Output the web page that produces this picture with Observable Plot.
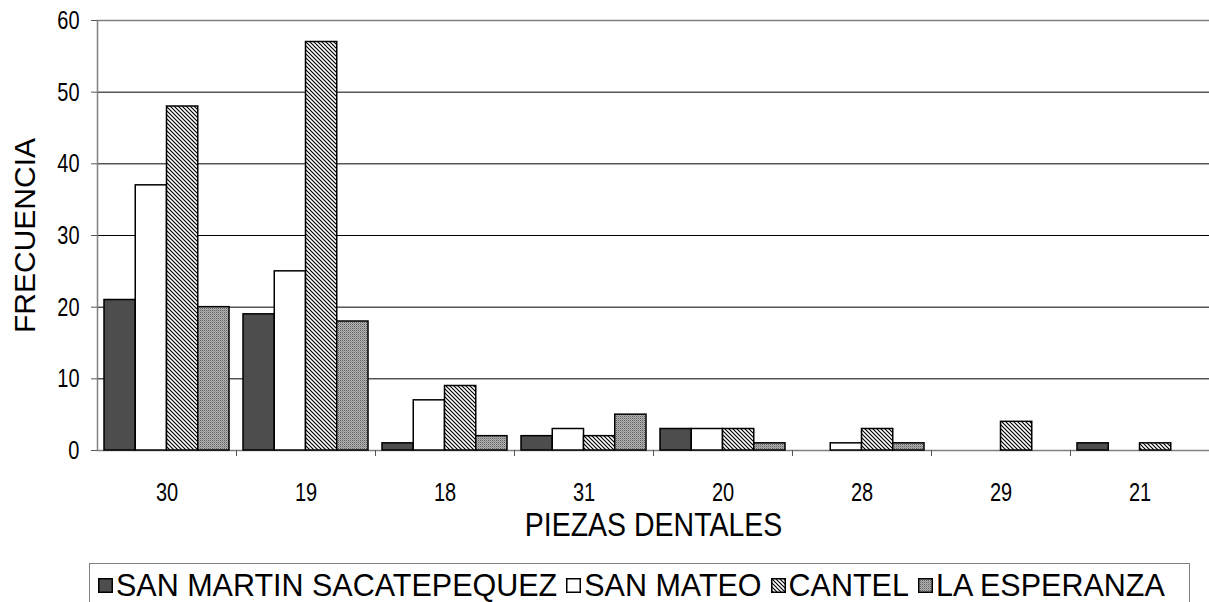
<!DOCTYPE html>
<html><head><meta charset="utf-8">
<script src="https://cdn.jsdelivr.net/npm/d3@7"></script>
<script src="https://cdn.jsdelivr.net/npm/@observablehq/plot@0.6"></script>
<style>
body{margin:0;background:#fff;font-family:"Liberation Sans",Arial,sans-serif;overflow:hidden}
#wrap{width:1209px;overflow:hidden;position:relative}
#legend{position:absolute;left:89px;top:563px;width:1101px;height:60px;border:1px solid #808080;display:flex;align-items:flex-start;justify-content:flex-start;padding-top:4px;padding-left:8px;font-size:30.5px;box-sizing:border-box;white-space:nowrap;color:#000}
.item{display:flex;align-items:center;margin-right:9px}
.item svg{margin-right:3px}
</style></head><body>
<svg width="0" height="0" style="position:absolute">
<defs>
<pattern id="hatch" patternUnits="userSpaceOnUse" width="4" height="4">
<rect width="4" height="4" fill="#fff"/>
<path d="M-1,-1L5,5M-1,3L1,5M3,-1L5,1" stroke="#000" stroke-width="1.2"/>
</pattern>
<pattern id="dots" patternUnits="userSpaceOnUse" width="2" height="2">
<rect width="2" height="2" fill="#b4b4b4"/>
<rect width="1" height="1" fill="#5e5e5e"/>
<rect x="1" y="1" width="1" height="1" fill="#909090"/>
</pattern>
</defs></svg>
<div id="wrap"></div>
<div id="legend"></div>
<script>
const categories = ["30","19","18","31","20","28","29","21"];
const seriesNames = ["SAN MARTIN SACATEPEQUEZ","SAN MATEO","CANTEL","LA ESPERANZA"];
const sanMartin   = [21,19,1,2,3,0,0,1];
const sanMateo    = [37,25,7,3,3,1,0,0];
const cantel      = [48,57,9,2,3,3,4,1];
const laEsperanza = [20,18,2,5,1,1,0,0];
const yTicks = [0,10,20,30,40,50,60];
const xTitle = "PIEZAS DENTALES";
const yTitle = "FRECUENCIA";

const seriesValues = [sanMartin, sanMateo, cantel, laEsperanza];
const fills = ["#4d4d4d","#ffffff","url(#hatch)","url(#dots)"];

const barMarks = seriesValues.map((vals, j) =>
  Plot.barY(
    categories.map((c, i) => ({c, v: vals[i], s: seriesNames[j]})).filter(d => d.v > 0),
    {x: "c", y: "v", fill: fills[j], stroke: "#000", strokeWidth: 1.5,
     insetLeft: 7 + 31.25 * j, insetRight: 7 + 31.25 * (3 - j)}
  )
);

const chart = Plot.plot({
  width: 1209,
  height: 555,
  marginLeft: 97,
  marginRight: 0,
  marginTop: 20,
  marginBottom: 105,
  style: {fontFamily: '"Liberation Sans", Arial, sans-serif', color: "#000", background: "#fff"},
  x: {domain: categories, padding: 0, axis: null},
  y: {domain: [0, 60], axis: null},
  marks: [
    Plot.gridY(yTicks, {stroke: "#000", strokeOpacity: 1, strokeWidth: 1}),
    Plot.frame({stroke: "#808080", strokeWidth: 1.5, insetRight: -4}),
    ...barMarks,
    Plot.axisY(yTicks, {tickSize: 6, tickPadding: 12, fontSize: 20, label: null, stroke: "#555"}),
    Plot.axisX({tickSize: 0, tickPadding: 32, fontSize: 20, label: null}),
    Plot.axisX({tickSize: 6, tickFormat: () => "", dx: 69.5, stroke: "#555", label: null}),
    Plot.text([xTitle], {frameAnchor: "bottom", dy: 75, lineAnchor: "middle", textAnchor: "middle", fontSize: 28.5, fill: "#000"}),
    Plot.text([yTitle], {frameAnchor: "left", dx: -72, rotate: -90, textAnchor: "middle", lineAnchor: "middle", fontSize: 30, fill: "#000"})
  ]
});
document.getElementById("wrap").appendChild(chart);

// vertical stretch of horizontal texts about their anchor point, as in the reference rendering
function stretch(texts, k) {
  texts.forEach(t => {
    const tr = t.getAttribute("transform");
    if (tr && !/NaN/.test(tr)) t.setAttribute("transform", `${tr} scale(1,${k})`);
  });
}
const allTexts = Array.from(chart.querySelectorAll("text"));
stretch(allTexts.filter(t => /^\d+$/.test(t.textContent)), 1.3);
stretch(allTexts.filter(t => t.textContent === xTitle), 1.15);

const legend = document.getElementById("legend");
seriesNames.forEach((name, j) => {
  const item = document.createElement("div");
  item.className = "item";
  item.innerHTML = `<svg width="15" height="15"><rect x="0.75" y="0.75" width="13.5" height="13.5" fill="${fills[j]}" stroke="#000" stroke-width="1.5"/></svg><span>${name}</span>`;
  legend.appendChild(item);
});
</script>
</body></html>
